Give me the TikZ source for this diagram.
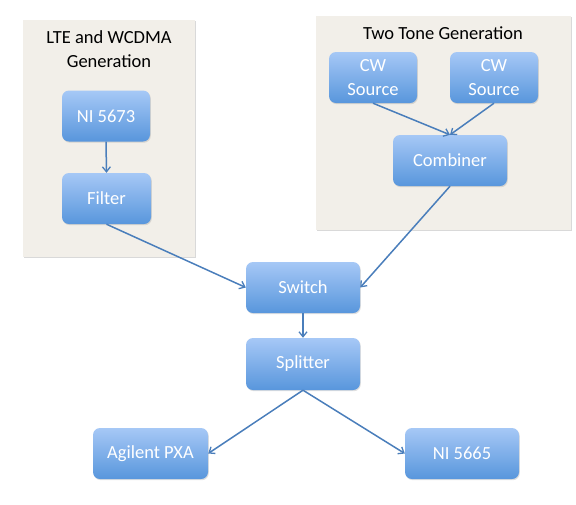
\documentclass[tikz,border=0pt]{standalone}
\usepackage{fontspec}
\setmainfont{Carlito}
\usetikzlibrary{arrows.meta,shadows}
\definecolor{boxbg}{HTML}{F2EFE9}
\definecolor{topblue}{HTML}{A6C8F6}
\definecolor{botblue}{HTML}{5896DC}
\definecolor{arr}{HTML}{4A7EBB}
\tikzset{
  blk/.style={rounded corners=7pt, top color=topblue, bottom color=botblue, draw=none,
    text=white, font=\fontsize{18.5}{24}\selectfont, align=center, inner sep=0pt,
    drop shadow={shadow xshift=0.8pt, shadow yshift=-1.2pt, opacity=0.25}},
  grp/.style={fill=boxbg, draw=none, inner sep=0pt,
    drop shadow={shadow xshift=0.6pt, shadow yshift=-1.2pt, opacity=0.3}},
  ttl/.style={font=\fontsize{18.5}{24}\selectfont, align=center, text=black},
  con/.style={draw=arr, line width=1.5pt, -{Straight Barb[length=5pt,width=8pt,line width=1.3pt]}}
}
\begin{document}
\begin{tikzpicture}[x=1pt,y=-1pt]
\useasboundingbox (0,0) rectangle (576,504);
% groups
\node[grp, minimum width=172pt, minimum height=237pt] (g1) at (109,138.5) {};
\node[grp, minimum width=255pt, minimum height=214pt] (g2) at (443.5,123) {};
\node[ttl] (t1) at (109,49) {LTE and WCDMA\\Generation};
\node[ttl] (t2) at (443,33) {Two Tone Generation};
% blocks
\node[blk, minimum width=88pt, minimum height=51pt] (ni5673) at (106,116) {NI 5673};
\node[blk, minimum width=89pt, minimum height=51pt] (filter) at (106.5,198.5) {Filter};
\node[blk, minimum width=88pt, minimum height=51pt] (cw1) at (373,77.5) {CW\\Source};
\node[blk, minimum width=88pt, minimum height=51pt] (cw2) at (494,77.5) {CW\\Source};
\node[blk, minimum width=114pt, minimum height=51pt] (comb) at (450,160.5) {Combiner};
\node[blk, minimum width=114pt, minimum height=51pt] (switch) at (303,287.5) {Switch};
\node[blk, minimum width=114pt, minimum height=52pt] (split) at (303,364) {Splitter};
\node[blk, minimum width=115pt, minimum height=51pt] (pxa) at (150.5,453.5) {Agilent PXA};
\node[blk, minimum width=114pt, minimum height=51pt] (ni5665) at (462,453.5) {NI 5665};
% connectors
\draw[con] (ni5673.south) -- (filter.north);
\draw[con] (cw1.south) -- (comb.north);
\draw[con] (cw2.south) -- (comb.north);
\draw[con] (filter.south) -- (switch.west);
\draw[con] (comb.south) -- (switch.east);
\draw[con] (switch.south) -- (split.north);
\draw[con] (split.south) -- (pxa.east);
\draw[con] (split.south) -- (ni5665.west);
\end{tikzpicture}
\end{document}
